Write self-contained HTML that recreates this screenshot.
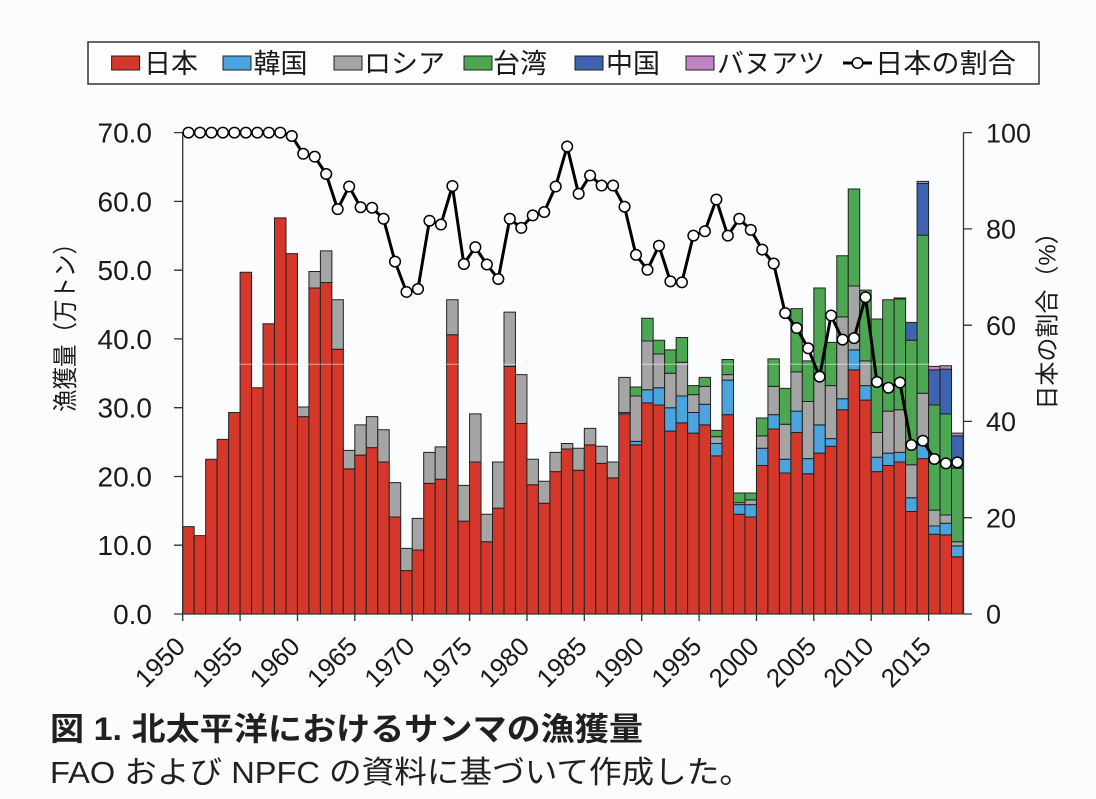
<!DOCTYPE html>
<html><head><meta charset="utf-8"><style>
html,body{margin:0;padding:0;background:#fbfcfd;}
svg{display:block;}
text{font-family:"Liberation Sans","Noto Sans CJK JP",sans-serif;fill:#1a1a1a;}
.bars rect{stroke:#222;stroke-width:1;vector-effect:non-scaling-stroke;}
.r{fill:#d5372b}.b{fill:#4aa4de}.g{fill:#a5a5a5}.t{fill:#4da651}.c{fill:#3e63b0}.v{fill:#c084c4}
.ax{stroke:#333;stroke-width:1.3;fill:none;}
</style></head><body>
<svg width="1096" height="799" viewBox="0 0 1096 799" xmlns="http://www.w3.org/2000/svg">
<rect x="0" y="0" width="1096" height="799" fill="#fbfcfd"/>

<!-- legend -->
<rect x="88" y="42" width="951" height="42" fill="#fdfdfd" stroke="#333" stroke-width="1.5"/>
<rect x="111.6" y="56" width="28" height="14" class="r" stroke="#222" stroke-width="1"/>
<text x="144" y="73" font-size="27">日本</text>
<rect x="223" y="56" width="28" height="14" class="b" stroke="#222" stroke-width="1"/>
<text x="253.5" y="73" font-size="27">韓国</text>
<rect x="334" y="56" width="28" height="14" class="g" stroke="#222" stroke-width="1"/>
<text x="364" y="73" font-size="27">ロシア</text>
<rect x="464" y="56" width="28" height="14" class="t" stroke="#222" stroke-width="1"/>
<text x="493" y="73" font-size="27">台湾</text>
<rect x="575" y="56" width="28" height="14" class="c" stroke="#222" stroke-width="1"/>
<text x="606" y="73" font-size="27">中国</text>
<rect x="686" y="56" width="28" height="14" class="v" stroke="#222" stroke-width="1"/>
<text x="717" y="73" font-size="27">バヌアツ</text>
<line x1="843" y1="63" x2="872" y2="63" stroke="#000" stroke-width="3"/>
<circle cx="857.5" cy="63" r="5.3" fill="#fff" stroke="#000" stroke-width="1.5"/>
<text x="875" y="73" font-size="27" textLength="141" lengthAdjust="spacingAndGlyphs">日本の割合</text>

<!-- bars in data space: x = year index, y = value (万トン) -->
<g class="bars" transform="translate(182.7 614) scale(11.475 -6.877)">
<rect x="0" y="0" width="1" height="12.7" class="r"/>
<rect x="1" y="0" width="1" height="11.4" class="r"/>
<rect x="2" y="0" width="1" height="22.5" class="r"/>
<rect x="3" y="0" width="1" height="25.4" class="r"/>
<rect x="4" y="0" width="1" height="29.3" class="r"/>
<rect x="5" y="0" width="1" height="49.7" class="r"/>
<rect x="6" y="0" width="1" height="32.9" class="r"/>
<rect x="7" y="0" width="1" height="42.2" class="r"/>
<rect x="8" y="0" width="1" height="57.6" class="r"/>
<rect x="9" y="0" width="1" height="52.4" class="r"/>
<rect x="10" y="0" width="1" height="28.7" class="r"/><rect x="10" y="28.7" width="1" height="1.4" class="g"/>
<rect x="11" y="0" width="1" height="47.4" class="r"/><rect x="11" y="47.4" width="1" height="2.4" class="g"/>
<rect x="12" y="0" width="1" height="48.2" class="r"/><rect x="12" y="48.2" width="1" height="4.6" class="g"/>
<rect x="13" y="0" width="1" height="38.5" class="r"/><rect x="13" y="38.5" width="1" height="7.2" class="g"/>
<rect x="14" y="0" width="1" height="21.1" class="r"/><rect x="14" y="21.1" width="1" height="2.7" class="g"/>
<rect x="15" y="0" width="1" height="23.1" class="r"/><rect x="15" y="23.1" width="1" height="4.4" class="g"/>
<rect x="16" y="0" width="1" height="24.2" class="r"/><rect x="16" y="24.2" width="1" height="4.5" class="g"/>
<rect x="17" y="0" width="1" height="22.1" class="r"/><rect x="17" y="22.1" width="1" height="4.7" class="g"/>
<rect x="18" y="0" width="1" height="14.1" class="r"/><rect x="18" y="14.1" width="1" height="5.0" class="g"/>
<rect x="19" y="0" width="1" height="6.3" class="r"/><rect x="19" y="6.3" width="1" height="3.25" class="g"/>
<rect x="20" y="0" width="1" height="9.3" class="r"/><rect x="20" y="9.3" width="1" height="4.6" class="g"/>
<rect x="21" y="0" width="1" height="19.0" class="r"/><rect x="21" y="19.0" width="1" height="4.5" class="g"/>
<rect x="22" y="0" width="1" height="19.6" class="r"/><rect x="22" y="19.6" width="1" height="4.7" class="g"/>
<rect x="23" y="0" width="1" height="40.6" class="r"/><rect x="23" y="40.6" width="1" height="5.1" class="g"/>
<rect x="24" y="0" width="1" height="13.5" class="r"/><rect x="24" y="13.5" width="1" height="5.2" class="g"/>
<rect x="25" y="0" width="1" height="22.1" class="r"/><rect x="25" y="22.1" width="1" height="7.0" class="g"/>
<rect x="26" y="0" width="1" height="10.5" class="r"/><rect x="26" y="10.5" width="1" height="4.0" class="g"/>
<rect x="27" y="0" width="1" height="15.4" class="r"/><rect x="27" y="15.4" width="1" height="6.7" class="g"/>
<rect x="28" y="0" width="1" height="36.0" class="r"/><rect x="28" y="36.0" width="1" height="7.9" class="g"/>
<rect x="29" y="0" width="1" height="27.7" class="r"/><rect x="29" y="27.7" width="1" height="7.1" class="g"/>
<rect x="30" y="0" width="1" height="18.8" class="r"/><rect x="30" y="18.8" width="1" height="3.7" class="g"/>
<rect x="31" y="0" width="1" height="16.1" class="r"/><rect x="31" y="16.1" width="1" height="3.2" class="g"/>
<rect x="32" y="0" width="1" height="20.7" class="r"/><rect x="32" y="20.7" width="1" height="2.8" class="g"/>
<rect x="33" y="0" width="1" height="24.0" class="r"/><rect x="33" y="24.0" width="1" height="0.8" class="g"/>
<rect x="34" y="0" width="1" height="20.9" class="r"/><rect x="34" y="20.9" width="1" height="3.2" class="g"/>
<rect x="35" y="0" width="1" height="24.6" class="r"/><rect x="35" y="24.6" width="1" height="2.4" class="g"/>
<rect x="36" y="0" width="1" height="21.9" class="r"/><rect x="36" y="21.9" width="1" height="2.5" class="g"/>
<rect x="37" y="0" width="1" height="19.8" class="r"/><rect x="37" y="19.8" width="1" height="2.3" class="g"/>
<rect x="38" y="0" width="1" height="29.1" class="r"/><rect x="38" y="29.1" width="1" height="0.2" class="b"/><rect x="38" y="29.3" width="1" height="5.1" class="g"/>
<rect x="39" y="0" width="1" height="24.6" class="r"/><rect x="39" y="24.6" width="1" height="0.5" class="b"/><rect x="39" y="25.1" width="1" height="6.6" class="g"/><rect x="39" y="31.7" width="1" height="1.3" class="t"/>
<rect x="40" y="0" width="1" height="30.7" class="r"/><rect x="40" y="30.7" width="1" height="1.9" class="b"/><rect x="40" y="32.6" width="1" height="7.1" class="g"/><rect x="40" y="39.7" width="1" height="3.3" class="t"/>
<rect x="41" y="0" width="1" height="30.4" class="r"/><rect x="41" y="30.4" width="1" height="2.5" class="b"/><rect x="41" y="32.9" width="1" height="4.9" class="g"/><rect x="41" y="37.8" width="1" height="2.0" class="t"/>
<rect x="42" y="0" width="1" height="26.6" class="r"/><rect x="42" y="26.6" width="1" height="3.4" class="b"/><rect x="42" y="30.0" width="1" height="5.0" class="g"/><rect x="42" y="35.0" width="1" height="3.4" class="t"/>
<rect x="43" y="0" width="1" height="27.8" class="r"/><rect x="43" y="27.8" width="1" height="3.9" class="b"/><rect x="43" y="31.7" width="1" height="4.9" class="g"/><rect x="43" y="36.6" width="1" height="3.6" class="t"/>
<rect x="44" y="0" width="1" height="26.3" class="r"/><rect x="44" y="26.3" width="1" height="3.0" class="b"/><rect x="44" y="29.3" width="1" height="2.6" class="g"/><rect x="44" y="31.9" width="1" height="1.3" class="t"/>
<rect x="45" y="0" width="1" height="27.5" class="r"/><rect x="45" y="27.5" width="1" height="3.0" class="b"/><rect x="45" y="30.5" width="1" height="2.6" class="g"/><rect x="45" y="33.1" width="1" height="1.3" class="t"/>
<rect x="46" y="0" width="1" height="23.0" class="r"/><rect x="46" y="23.0" width="1" height="1.8" class="b"/><rect x="46" y="24.8" width="1" height="1.0" class="g"/><rect x="46" y="25.8" width="1" height="0.9" class="t"/>
<rect x="47" y="0" width="1" height="29.0" class="r"/><rect x="47" y="29.0" width="1" height="5.0" class="b"/><rect x="47" y="34.0" width="1" height="0.8" class="g"/><rect x="47" y="34.8" width="1" height="2.2" class="t"/>
<rect x="48" y="0" width="1" height="14.5" class="r"/><rect x="48" y="14.5" width="1" height="1.4" class="b"/><rect x="48" y="15.9" width="1" height="0.3" class="g"/><rect x="48" y="16.2" width="1" height="1.4" class="t"/>
<rect x="49" y="0" width="1" height="14.1" class="r"/><rect x="49" y="14.1" width="1" height="1.8" class="b"/><rect x="49" y="15.9" width="1" height="0.7" class="g"/><rect x="49" y="16.6" width="1" height="1.0" class="t"/>
<rect x="50" y="0" width="1" height="21.6" class="r"/><rect x="50" y="21.6" width="1" height="2.5" class="b"/><rect x="50" y="24.1" width="1" height="1.8" class="g"/><rect x="50" y="25.9" width="1" height="2.6" class="t"/>
<rect x="51" y="0" width="1" height="26.9" class="r"/><rect x="51" y="26.9" width="1" height="2.1" class="b"/><rect x="51" y="29.0" width="1" height="4.1" class="g"/><rect x="51" y="33.1" width="1" height="4.0" class="t"/>
<rect x="52" y="0" width="1" height="20.5" class="r"/><rect x="52" y="20.5" width="1" height="2.0" class="b"/><rect x="52" y="22.5" width="1" height="5.1" class="g"/><rect x="52" y="27.6" width="1" height="5.2" class="t"/>
<rect x="53" y="0" width="1" height="26.4" class="r"/><rect x="53" y="26.4" width="1" height="3.1" class="b"/><rect x="53" y="29.5" width="1" height="5.7" class="g"/><rect x="53" y="35.2" width="1" height="9.2" class="t"/>
<rect x="54" y="0" width="1" height="20.4" class="r"/><rect x="54" y="20.4" width="1" height="2.2" class="b"/><rect x="54" y="22.6" width="1" height="8.3" class="g"/><rect x="54" y="30.9" width="1" height="5.9" class="t"/>
<rect x="55" y="0" width="1" height="23.4" class="r"/><rect x="55" y="23.4" width="1" height="4.1" class="b"/><rect x="55" y="27.5" width="1" height="7.5" class="g"/><rect x="55" y="35.0" width="1" height="12.4" class="t"/>
<rect x="56" y="0" width="1" height="24.4" class="r"/><rect x="56" y="24.4" width="1" height="1.1" class="b"/><rect x="56" y="25.5" width="1" height="7.7" class="g"/><rect x="56" y="33.2" width="1" height="6.3" class="t"/>
<rect x="57" y="0" width="1" height="29.7" class="r"/><rect x="57" y="29.7" width="1" height="1.6" class="b"/><rect x="57" y="31.3" width="1" height="11.9" class="g"/><rect x="57" y="43.2" width="1" height="8.9" class="t"/>
<rect x="58" y="0" width="1" height="35.5" class="r"/><rect x="58" y="35.5" width="1" height="2.9" class="b"/><rect x="58" y="38.4" width="1" height="9.3" class="g"/><rect x="58" y="47.7" width="1" height="14.1" class="t"/>
<rect x="59" y="0" width="1" height="31.1" class="r"/><rect x="59" y="31.1" width="1" height="2.1" class="b"/><rect x="59" y="33.2" width="1" height="3.6" class="g"/><rect x="59" y="36.8" width="1" height="10.3" class="t"/>
<rect x="60" y="0" width="1" height="20.7" class="r"/><rect x="60" y="20.7" width="1" height="2.1" class="b"/><rect x="60" y="22.8" width="1" height="3.6" class="g"/><rect x="60" y="26.4" width="1" height="16.5" class="t"/>
<rect x="61" y="0" width="1" height="21.6" class="r"/><rect x="61" y="21.6" width="1" height="1.8" class="b"/><rect x="61" y="23.4" width="1" height="6.1" class="g"/><rect x="61" y="29.5" width="1" height="16.2" class="t"/>
<rect x="62" y="0" width="1" height="22.1" class="r"/><rect x="62" y="22.1" width="1" height="1.4" class="b"/><rect x="62" y="23.5" width="1" height="6.2" class="g"/><rect x="62" y="29.7" width="1" height="16.1" class="t"/><rect x="62" y="45.8" width="1" height="0.15" class="c"/>
<rect x="63" y="0" width="1" height="14.9" class="r"/><rect x="63" y="14.9" width="1" height="2.0" class="b"/><rect x="63" y="16.9" width="1" height="4.8" class="g"/><rect x="63" y="21.7" width="1" height="18.1" class="t"/><rect x="63" y="39.8" width="1" height="2.6" class="c"/>
<rect x="64" y="0" width="1" height="22.6" class="r"/><rect x="64" y="22.6" width="1" height="2.0" class="b"/><rect x="64" y="24.6" width="1" height="7.5" class="g"/><rect x="64" y="32.1" width="1" height="23.0" class="t"/><rect x="64" y="55.1" width="1" height="7.5" class="c"/><rect x="64" y="62.6" width="1" height="0.3" class="v"/>
<rect x="65" y="0" width="1" height="11.6" class="r"/><rect x="65" y="11.6" width="1" height="1.2" class="b"/><rect x="65" y="12.8" width="1" height="2.3" class="g"/><rect x="65" y="15.1" width="1" height="15.3" class="t"/><rect x="65" y="30.4" width="1" height="5.1" class="c"/><rect x="65" y="35.5" width="1" height="0.5" class="v"/>
<rect x="66" y="0" width="1" height="11.5" class="r"/><rect x="66" y="11.5" width="1" height="1.7" class="b"/><rect x="66" y="13.2" width="1" height="1.2" class="g"/><rect x="66" y="14.4" width="1" height="14.7" class="t"/><rect x="66" y="29.1" width="1" height="6.5" class="c"/><rect x="66" y="35.6" width="1" height="0.5" class="v"/>
<rect x="67" y="0" width="1" height="8.3" class="r"/><rect x="67" y="8.3" width="1" height="1.6" class="b"/><rect x="67" y="9.9" width="1" height="0.6" class="g"/><rect x="67" y="10.5" width="1" height="10.7" class="t"/><rect x="67" y="21.2" width="1" height="4.7" class="c"/><rect x="67" y="25.9" width="1" height="0.4" class="v"/>
</g>

<!-- faint scan line -->
<line x1="183" y1="364.3" x2="963" y2="364.3" stroke="#ffffff" stroke-opacity="0.55" stroke-width="1"/>

<!-- axes -->
<path class="ax" d="M182.7 132.6V614M174 614H182.7M174 545.2H182.7M174 476.5H182.7M174 407.7H182.7M174 338.9H182.7M174 270.2H182.7M174 201.4H182.7M174 132.6H182.7"/>
<path class="ax" d="M963.5 132.6V614M963.5 614H972M963.5 517.7H972M963.5 421.4H972M963.5 325.2H972M963.5 228.9H972M963.5 132.6H972"/>
<path class="ax" d="M182.7 614H928.6M182.7 614V621M240.1 614V621M297.5 614V621M354.8 614V621M412.2 614V621M469.6 614V621M527 614V621M584.3 614V621M641.7 614V621M699.1 614V621M756.5 614V621M813.8 614V621M871.2 614V621M928.6 614V621"/>

<!-- ratio line in data space: x = index, y = percent -->
<g transform="translate(182.7 614) scale(11.475 -4.814)">
<polyline fill="none" stroke="#000" stroke-width="3" stroke-linejoin="round" vector-effect="non-scaling-stroke" points="0.5,100 1.5,100 2.5,100 3.5,100 4.5,100 5.5,100 6.5,100 7.5,100 8.5,100 9.5,99.3 10.5,95.6 11.5,95 12.5,91.4 13.5,84.1 14.5,88.8 15.5,84.5 16.5,84.4 17.5,82.1 18.5,73.2 19.5,66.9 20.5,67.5 21.5,81.7 22.5,80.9 23.5,88.9 24.5,72.7 25.5,76.2 26.5,72.6 27.5,69.6 28.5,82.1 29.5,80.2 30.5,82.8 31.5,83.5 32.5,88.8 33.5,97.1 34.5,87.3 35.5,91.1 36.5,89 37.5,89 38.5,84.6 39.5,74.6 40.5,71.5 41.5,76.5 42.5,69.1 43.5,68.9 44.5,78.6 45.5,79.5 46.5,86.1 47.5,78.6 48.5,82.1 49.5,79.8 50.5,75.7 51.5,72.8 52.5,62.5 53.5,59.4 54.5,55.2 55.5,49.3 56.5,62 57.5,57 58.5,57.3 59.5,65.8 60.5,48.2 61.5,47 62.5,48.1 63.5,35.1 64.5,36 65.5,32.2 66.5,31.3 67.5,31.5"/>
<path fill="none" stroke="#000" stroke-width="12" stroke-linecap="round" vector-effect="non-scaling-stroke" d="M0.5 100h0.01M1.5 100h0.01M2.5 100h0.01M3.5 100h0.01M4.5 100h0.01M5.5 100h0.01M6.5 100h0.01M7.5 100h0.01M8.5 100h0.01M9.5 99.3h0.01M10.5 95.6h0.01M11.5 95h0.01M12.5 91.4h0.01M13.5 84.1h0.01M14.5 88.8h0.01M15.5 84.5h0.01M16.5 84.4h0.01M17.5 82.1h0.01M18.5 73.2h0.01M19.5 66.9h0.01M20.5 67.5h0.01M21.5 81.7h0.01M22.5 80.9h0.01M23.5 88.9h0.01M24.5 72.7h0.01M25.5 76.2h0.01M26.5 72.6h0.01M27.5 69.6h0.01M28.5 82.1h0.01M29.5 80.2h0.01M30.5 82.8h0.01M31.5 83.5h0.01M32.5 88.8h0.01M33.5 97.1h0.01M34.5 87.3h0.01M35.5 91.1h0.01M36.5 89h0.01M37.5 89h0.01M38.5 84.6h0.01M39.5 74.6h0.01M40.5 71.5h0.01M41.5 76.5h0.01M42.5 69.1h0.01M43.5 68.9h0.01M44.5 78.6h0.01M45.5 79.5h0.01M46.5 86.1h0.01M47.5 78.6h0.01M48.5 82.1h0.01M49.5 79.8h0.01M50.5 75.7h0.01M51.5 72.8h0.01M52.5 62.5h0.01M53.5 59.4h0.01M54.5 55.2h0.01M55.5 49.3h0.01M56.5 62h0.01M57.5 57h0.01M58.5 57.3h0.01M59.5 65.8h0.01M60.5 48.2h0.01M61.5 47h0.01M62.5 48.1h0.01M63.5 35.1h0.01M64.5 36h0.01M65.5 32.2h0.01M66.5 31.3h0.01M67.5 31.5h0.01"/>
<path fill="none" stroke="#fff" stroke-width="9" stroke-linecap="round" vector-effect="non-scaling-stroke" d="M0.5 100h0.01M1.5 100h0.01M2.5 100h0.01M3.5 100h0.01M4.5 100h0.01M5.5 100h0.01M6.5 100h0.01M7.5 100h0.01M8.5 100h0.01M9.5 99.3h0.01M10.5 95.6h0.01M11.5 95h0.01M12.5 91.4h0.01M13.5 84.1h0.01M14.5 88.8h0.01M15.5 84.5h0.01M16.5 84.4h0.01M17.5 82.1h0.01M18.5 73.2h0.01M19.5 66.9h0.01M20.5 67.5h0.01M21.5 81.7h0.01M22.5 80.9h0.01M23.5 88.9h0.01M24.5 72.7h0.01M25.5 76.2h0.01M26.5 72.6h0.01M27.5 69.6h0.01M28.5 82.1h0.01M29.5 80.2h0.01M30.5 82.8h0.01M31.5 83.5h0.01M32.5 88.8h0.01M33.5 97.1h0.01M34.5 87.3h0.01M35.5 91.1h0.01M36.5 89h0.01M37.5 89h0.01M38.5 84.6h0.01M39.5 74.6h0.01M40.5 71.5h0.01M41.5 76.5h0.01M42.5 69.1h0.01M43.5 68.9h0.01M44.5 78.6h0.01M45.5 79.5h0.01M46.5 86.1h0.01M47.5 78.6h0.01M48.5 82.1h0.01M49.5 79.8h0.01M50.5 75.7h0.01M51.5 72.8h0.01M52.5 62.5h0.01M53.5 59.4h0.01M54.5 55.2h0.01M55.5 49.3h0.01M56.5 62h0.01M57.5 57h0.01M58.5 57.3h0.01M59.5 65.8h0.01M60.5 48.2h0.01M61.5 47h0.01M62.5 48.1h0.01M63.5 35.1h0.01M64.5 36h0.01M65.5 32.2h0.01M66.5 31.3h0.01M67.5 31.5h0.01"/>
</g>

<!-- left tick labels -->
<g font-size="28" text-anchor="end">
<text x="152" y="624">0.0</text>
<text x="152" y="555.2">10.0</text>
<text x="152" y="486.5">20.0</text>
<text x="152" y="417.7">30.0</text>
<text x="152" y="348.9">40.0</text>
<text x="152" y="280.2">50.0</text>
<text x="152" y="211.4">60.0</text>
<text x="152" y="142.6">70.0</text>
</g>
<!-- right tick labels -->
<g font-size="27" text-anchor="start">
<text x="986" y="623.7">0</text>
<text x="986" y="527.4">20</text>
<text x="986" y="431.1">40</text>
<text x="986" y="334.9">60</text>
<text x="986" y="238.6">80</text>
<text x="986" y="142.3">100</text>
</g>
<!-- x tick labels -->
<g font-size="26" text-anchor="end">
<text x="186.7" y="648" transform="rotate(-45 186.7 648)">1950</text>
<text x="244.1" y="648" transform="rotate(-45 244.1 648)">1955</text>
<text x="301.5" y="648" transform="rotate(-45 301.5 648)">1960</text>
<text x="358.8" y="648" transform="rotate(-45 358.8 648)">1965</text>
<text x="416.2" y="648" transform="rotate(-45 416.2 648)">1970</text>
<text x="473.6" y="648" transform="rotate(-45 473.6 648)">1975</text>
<text x="531" y="648" transform="rotate(-45 531 648)">1980</text>
<text x="588.3" y="648" transform="rotate(-45 588.3 648)">1985</text>
<text x="645.7" y="648" transform="rotate(-45 645.7 648)">1990</text>
<text x="703.1" y="648" transform="rotate(-45 703.1 648)">1995</text>
<text x="760.5" y="648" transform="rotate(-45 760.5 648)">2000</text>
<text x="817.8" y="648" transform="rotate(-45 817.8 648)">2005</text>
<text x="875.2" y="648" transform="rotate(-45 875.2 648)">2010</text>
<text x="932.6" y="648" transform="rotate(-45 932.6 648)">2015</text>
</g>

<!-- axis titles -->
<text transform="translate(66 322) rotate(-90)" text-anchor="middle" dominant-baseline="central" font-size="25" textLength="180" lengthAdjust="spacingAndGlyphs">漁獲量（万トン）</text>
<text transform="translate(1048 315) rotate(-90)" text-anchor="middle" dominant-baseline="central" font-size="24">日本の割合（%）</text>

<!-- caption -->
<text x="50" y="740" font-size="32" font-weight="bold" style="fill:#231f20" textLength="593" lengthAdjust="spacingAndGlyphs">図 1. 北太平洋におけるサンマの漁獲量</text>
<text x="50" y="783" font-size="31" style="fill:#231f20" textLength="702" lengthAdjust="spacingAndGlyphs">FAO および NPFC の資料に基づいて作成した。</text>
</svg>
</body></html>
